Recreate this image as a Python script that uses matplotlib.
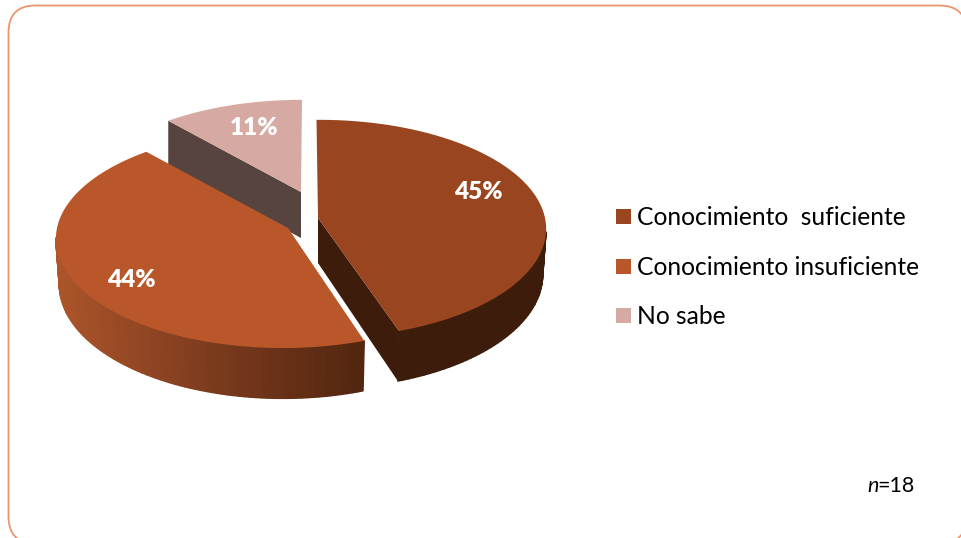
import numpy as np
import matplotlib
matplotlib.use('Agg')
import matplotlib.pyplot as plt
from matplotlib.collections import PolyCollection
from matplotlib.colors import LinearSegmentedColormap
from matplotlib.patches import FancyBboxPatch, Polygon, Rectangle

# Shares of each answer
categories = ['Conocimiento  suficiente', 'Conocimiento insuficiente', 'No sabe']
shares = [45, 44, 11]
sample_note = '=18'

top_colors = ['#994620', '#b9572a', '#d6a9a2']
BORDER = '#e9956f'

# Pie projection settings (pixels)
RX, BACK_FRONT, TILT = 226.0, 108.0, 0.10
DEPTH = 45.0
# small turn of each exploded slice, in degrees
turns = [-0.7, -1.0, 0.0]
# tip of each slice, and the point its outer rim is drawn around
tips = [(318, 218), (288, 228), (301, 192)]
hubs = [(319, 218), (283, 228), (302, 198)]

plt.rcParams['font.family'] = ['Lato', 'DejaVu Sans']

fig = plt.figure(figsize=(9.61, 5.38), dpi=100)
ax = fig.add_axes([0, 0, 1, 1])
ax.set_xlim(0, 961)
ax.set_ylim(538, 0)
ax.axis('off')

ax.add_patch(FancyBboxPatch((8.5 + 27, 5.5 + 27), 958 - 54, 538 - 54,
                            boxstyle='round,pad=27,rounding_size=27',
                            fc='white', ec=BORDER, lw=1.3, zorder=0))


def rim(hub, theta, lower=False):
    # theta runs clockwise from the back of the pie
    t = np.radians(theta)
    x, y = np.sin(t), np.cos(t)
    w = 1 + TILT * y
    sx = RX * x / w
    sy = BACK_FRONT * y / w
    if lower:
        return np.column_stack([hub[0] + 0.985 * sx, hub[1] + DEPTH - 1.045 * sy])
    return np.column_stack([hub[0] + sx, hub[1] - sy])


def side_wall(hub, theta, face_colors, z):
    upper = rim(hub, theta)
    below = rim(hub, theta, lower=True)
    quads = [[upper[i], upper[i + 1], below[i + 1], below[i]] for i in range(len(theta) - 1)]
    ax.add_collection(PolyCollection(quads, facecolors=face_colors, edgecolors=face_colors,
                                     linewidths=1.0, zorder=z))


edges = np.concatenate([[0], np.cumsum(shares)]) * 3.6
arcs = [np.linspace(edges[i] + turns[i], edges[i + 1] + turns[i], 120) for i in range(3)]

# No sabe goes first, it sits behind the other two
tip, hub = tips[2], hubs[2]
start = rim(hub, arcs[2][:1])[0]
ax.add_patch(Polygon([start, tip, (tip[0], tip[1] + DEPTH + 1), (start[0], start[1] + DEPTH)],
                     fc='#57443f', ec='none', zorder=2))
ax.add_patch(Polygon(np.vstack([[tip], rim(hub, arcs[2])]), fc=top_colors[2], ec='none', zorder=3))

# Conocimiento insuficiente, front wall shaded from left to right
tip, hub = tips[1], hubs[1]
front = arcs[1][arcs[1] < 265]
shade = LinearSegmentedColormap.from_list('wall', ['#ac552a', '#7d3b1e', '#53260f'])
wall_x = rim(hub, front)[:-1, 0]
wall_colors = shade((wall_x - wall_x.min()) / (wall_x.max() - wall_x.min()))
side_wall(hub, front, wall_colors, 4)
ax.add_patch(Polygon(np.vstack([[tip], rim(hub, arcs[1])]), fc=top_colors[1], ec='none', zorder=5))

# Conocimiento suficiente, dark cut face and dark rim
tip, hub = tips[0], hubs[0]
front = arcs[0][arcs[0] > 97]
side_wall(hub, front, '#3d1c0b', 6)
end = rim(hub, arcs[0][-1:])[0]
end_low = rim(hub, arcs[0][-1:], lower=True)[0]
ax.add_patch(Polygon([tip, end, end_low, (tip[0], tip[1] + DEPTH)], fc='#3d1c0b', ec='none', zorder=6))
ax.add_patch(Polygon(np.vstack([[tip], rim(hub, arcs[0])]), fc=top_colors[0], ec='none', zorder=7))

# Percent labels
label_pos = [(478, 192), (131, 280), (254, 128)]
for share, (lx, ly) in zip(shares, label_pos):
    ax.text(lx, ly, f'{share}%', color='white', fontsize=17.5, fontweight='heavy',
            ha='center', va='center', zorder=8)

# Legend
for i, name in enumerate(categories):
    ly = 216.5 + i * 49.7
    ax.add_patch(Rectangle((616, ly - 7.5), 15, 15, fc=top_colors[i], ec='none', zorder=8))
    ax.text(637, ly + 1, name, color='#000000', fontsize=17.7, ha='left', va='center', zorder=8)

ax.text(867, 486, 'n', color='#000000', fontsize=15.5, style='italic', ha='left', va='center', zorder=8)
ax.text(877.5, 486, sample_note, color='#000000', fontsize=15.5, ha='left', va='center', zorder=8)

fig.savefig('out.png', dpi=100)
